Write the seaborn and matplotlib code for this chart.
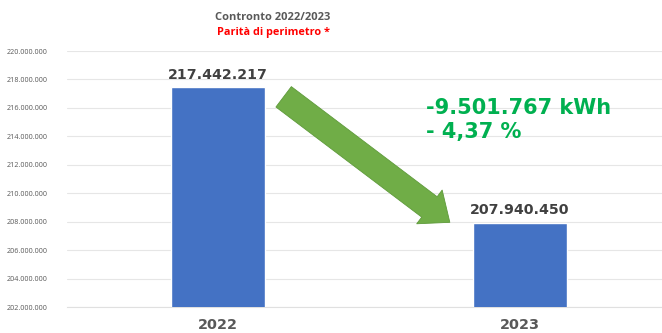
import matplotlib
matplotlib.use("Agg")
import matplotlib.pyplot as plt
import seaborn as sns
import pandas as pd
from matplotlib.ticker import FuncFormatter

years = ["2022", "2023"]
values = [217442217, 207940450]
value_labels = ["217.442.217", "207.940.450"]
delta_text = ["-9.501.767 kWh", "- 4,37 %"]
title_1 = "Contronto 2022/2023"
title_2 = "Parità di perimetro *"

df = pd.DataFrame({"anno": years, "kwh": values})

sns.set_theme(style="white")
plt.rcParams["font.family"] = ["Open Sans", "DejaVu Sans"]

fig = plt.figure(figsize=(6.62, 3.33), dpi=100)
ax = fig.add_axes([67/662, (333-307.3)/333, 604/662, (307.3-51)/333])

sns.barplot(data=df, x="anno", y="kwh", color="#4472C4", width=0.31,
            saturation=1, ax=ax, zorder=3)

ax.set_xlim(-0.5, 1.5)
ax.set_ylim(202e6, 220e6)
ax.set_yticks([202e6 + 2e6*i for i in range(10)])
ax.yaxis.set_major_formatter(FuncFormatter(lambda v, p: f"{int(round(v)):,}".replace(",", ".")))
ax.tick_params(axis="y", labelsize=5.2, labelcolor="#595959", length=0, pad=14)
ax.tick_params(axis="x", labelsize=10.4, labelcolor="#595959", length=0, pad=8)
for t in ax.get_xticklabels():
    t.set_fontweight("bold")
    t.set_family(["DejaVu Sans"])
ax.set_xlabel("")
ax.set_ylabel("")
ax.grid(axis="y", color="#E6E6E6", linewidth=0.8, zorder=0)
for s in ["top", "left", "right"]:
    ax.spines[s].set_visible(False)
ax.spines["bottom"].set_color("#E0E0E0")
ax.spines["bottom"].set_linewidth(0.8)

for i, (v, lab) in enumerate(zip(values, value_labels)):
    ax.text(i, v + 0.62e6, lab, ha="center", va="baseline", fontsize=10.2,
            fontweight="bold", color="#404040", family=["DejaVu Sans"])

ax.annotate("", xy=(0.775, 207.85e6), xytext=(0.21, 216.9e6),
            arrowprops=dict(arrowstyle="simple,head_length=1.15,head_width=1.9,tail_width=1.15",
                            mutation_scale=16, fc="#70AD47", ec="#5E9A3A", lw=0.6),
            zorder=4)

ax.text(0.69, 216.0e6, delta_text[0], ha="left", va="center", fontsize=15,
        fontweight="bold", color="#00B050", family=["DejaVu Sans"])
ax.text(0.69, 214.3e6, delta_text[1], ha="left", va="center", fontsize=15,
        fontweight="bold", color="#00B050", family=["DejaVu Sans"])

fig.text(273/662, 1 - 17/333, title_1, ha="center", va="center", fontsize=8,
         fontweight="bold", color="#595959")
fig.text(273/662, 1 - 33/333, title_2, ha="center", va="center", fontsize=7.8,
         fontweight="bold", color="#FF0000")

fig.savefig("out.png", dpi=100)
